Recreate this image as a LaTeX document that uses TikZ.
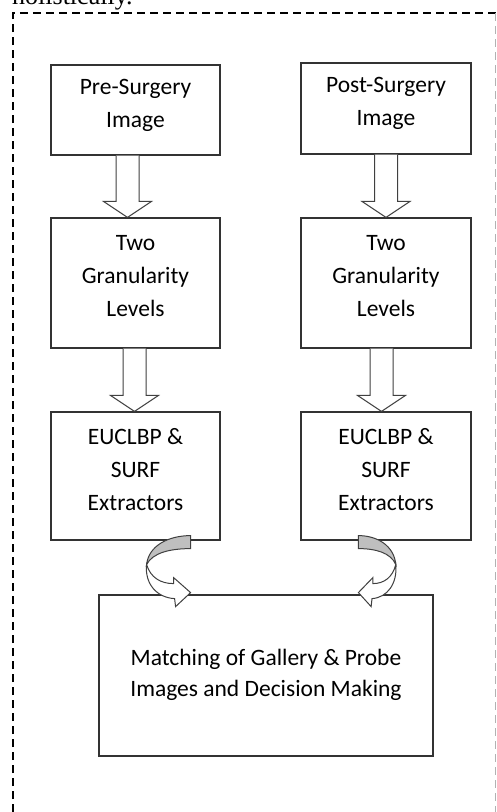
\documentclass[tikz,border=0pt]{standalone}
\usepackage{fontspec}
\setmainfont{Carlito}
\newfontfamily\paperfont{Liberation Serif}
\usetikzlibrary{calc}
\tikzset{
  blk/.style={draw=black!80, line width=1.2pt, fill=white, align=center, inner sep=0pt,
    font=\fontsize{23.5}{33}\selectfont, text depth=14pt},
  harrow/.style={draw=black!75, line width=1pt, fill=white, line join=miter},
  frame/.style={line width=2.2pt, dash pattern=on 8pt off 5pt}
}
% hollow block arrow from the bottom of one box to the top of the next
\def\hollowarrow(#1)(#2)[#3]{
  \coordinate (top) at ($(#1.south)+(#3,0)$);
  \coordinate (tip) at (top |- #2.north);
  \draw[harrow] ($(top)+(-11.5,0)$) -- ($(tip)+(-11.5,-16)$) -- ($(tip)+(-24,-16)$) -- (tip)
    -- ($(tip)+(24,-16)$) -- ($(tip)+(11.5,-16)$) -- ($(top)+(11.5,0)$);
}
% twisted curved arrow, #2 = 1 bends left, negative bends right
\def\bentarrow(#1)[#2]{
  \begin{scope}[shift={(#1)}, xscale=#2]
    \draw[harrow, fill=black!25] (0,0) .. controls (-22,0) and (-42,10) .. (-44,29)
      .. controls (-38,17) and (-20,13) .. (0,13) -- cycle;
    \draw[harrow] (-44,29) .. controls (-40,42) and (-30,48) .. (-17,48) -- (-17,42) -- (0,57)
      -- (-15,71) -- (-16,63) .. controls (-34,62) and (-46,48) .. (-44,29) -- cycle;
  \end{scope}
}
\begin{document}
\begin{tikzpicture}[x=1pt, y=-1pt]
			\useasboundingbox (0,0) rectangle (497,812);
			
			\node[anchor=base west, font=\paperfont\fontsize{26}{28}\selectfont, inner sep=0pt] (cut) at (12,4) {holistically.};
			\draw[frame] (13,812) -- (13,13) -- (497,13);
			\draw[frame, draw=black!30, line width=0.6pt] (495,13) -- (495,812);
			
			%%%%% boxes %%%%%
			\node[blk, minimum width=169, minimum height=90] (preimg) at (135.5,110) {Pre-Surgery\\Image};
			\node[blk, minimum width=170, minimum height=91] (postimg) at (386,108.5) {Post-Surgery\\Image};
			
			\node[blk, minimum width=169, minimum height=130] (pregran) at (135.5,283) {Two\\Granularity\\Levels};
			\node[blk, minimum width=170, minimum height=130] (postgran) at (386,283) {Two\\Granularity\\Levels};
			
			\node[blk, minimum width=169, minimum height=128] (preext) at (135.5,476) {EUCLBP \&\\SURF\\Extractors};
			\node[blk, minimum width=170, minimum height=128] (postext) at (386,476) {EUCLBP \&\\SURF\\Extractors};
			
			\node[blk, minimum width=334, minimum height=161, text depth=6pt, font=\fontsize{23.5}{31}\selectfont] (match) at (266,675.5) {Matching of Gallery \& Probe\\Images and Decision Making};
			
			%%%%% arrows %%%%%
			\hollowarrow(preimg)(pregran)[-8]
			\hollowarrow(postimg)(postgran)[0]
			\hollowarrow(pregran)(preext)[-1]
			\hollowarrow(postgran)(postext)[-4.5]
			
			\coordinate (lend) at ($(preext.south east)+(-30,-5)$);
			\coordinate (rend) at ($(postext.south west)+(58,-5)$);
			\bentarrow(lend)[1]
			\bentarrow(rend)[-0.85]
		\end{tikzpicture}
\end{document}
